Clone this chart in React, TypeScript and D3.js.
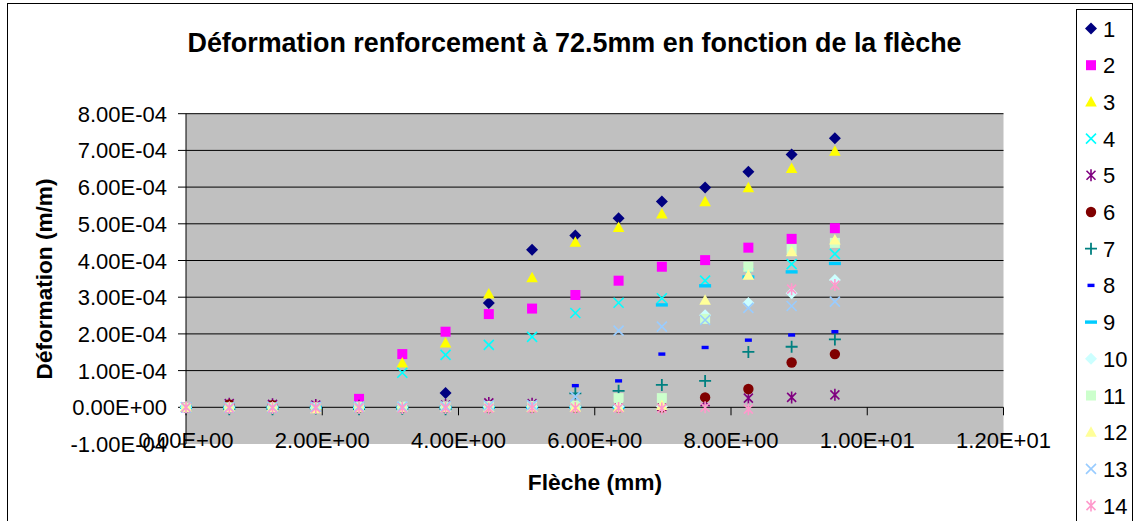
import React from 'react';
import * as d3 from 'd3';

// Flèche (mm)
const fleche = [0, 0.635, 1.27, 1.905, 2.54, 3.175, 3.81, 4.445, 5.08, 5.715, 6.35, 6.985, 7.62, 8.255, 8.89, 9.525];

// Déformation (m/m) per gauge
const s1 = [0, 0.02e-4, 0.01e-4, 0, 0, 0, 0.39e-4, 2.84e-4, 4.29e-4, 4.68e-4, 5.15e-4, 5.61e-4, 5.99e-4, 6.42e-4, 6.89e-4, 7.33e-4];
const s2 = [0, 0, 0, 0.02e-4, 0.23e-4, 1.45e-4, 2.06e-4, 2.54e-4, 2.69e-4, 3.06e-4, 3.45e-4, 3.83e-4, 4.01e-4, 4.35e-4, 4.59e-4, 4.88e-4];
const s3 = [0, 0, 0, 0.05e-4, 0, 1.21e-4, 1.75e-4, 3.09e-4, 3.53e-4, 4.5e-4, 4.9e-4, 5.27e-4, 5.6e-4, 5.98e-4, 6.51e-4, 6.98e-4];
const s4 = [0, 0, 0, 0, 0, 0.94e-4, 1.43e-4, 1.7e-4, 1.92e-4, 2.57e-4, 2.85e-4, 2.97e-4, 3.45e-4, 3.65e-4, 3.9e-4, 4.18e-4];
const s5 = [0, 0.1e-4, 0.08e-4, 0.06e-4, 0.04e-4, 0, 0.06e-4, 0.12e-4, 0.1e-4, 0.04e-4, 0.03e-4, 0.03e-4, 0.15e-4, 0.25e-4, 0.27e-4, 0.34e-4];
const s6 = [0, 0.08e-4, 0.06e-4, 0, 0, 0, 0, 0, 0, 0, 0, 0, 0.27e-4, 0.5e-4, 1.22e-4, 1.45e-4];
const s7 = [0, -0.05e-4, -0.05e-4, -0.03e-4, -0.05e-4, -0.04e-4, -0.05e-4, -0.02e-4, 0, 0.38e-4, 0.45e-4, 0.61e-4, 0.72e-4, 1.51e-4, 1.65e-4, 1.85e-4];
const s8 = [0, 0.01e-4, 0.01e-4, 0.02e-4, 0.02e-4, 0.02e-4, 0.03e-4, 0.03e-4, 0.04e-4, 0.59e-4, 0.72e-4, 1.45e-4, 1.63e-4, 1.83e-4, 1.97e-4, 2.06e-4];
const s9 = [0, 0, 0, 0, 0, 0, 0, 0, 0, 0, 0, 2.79e-4, 3.31e-4, 3.55e-4, 3.69e-4, 3.92e-4];
const s10 = [0, 0, 0, -0.02e-4, 0, 0, 0, 0.02e-4, 0.02e-4, 0.02e-4, 0.02e-4, 0.02e-4, 2.51e-4, 2.84e-4, 3.11e-4, 3.47e-4];
const s11 = [0, 0, 0, 0, 0.02e-4, 0.02e-4, 0.02e-4, 0.03e-4, 0.03e-4, 0.05e-4, 0.25e-4, 0.25e-4, 2.41e-4, 3.83e-4, 4.31e-4, 4.48e-4];
const s12 = [0, 0, 0, -0.04e-4, 0, 0, 0, 0, 0, 0, 0, 0.05e-4, 2.92e-4, 3.6e-4, 4.24e-4, 4.56e-4];
const s13 = [0, 0, 0, 0.01e-4, 0.02e-4, 0.02e-4, 0.03e-4, 0.05e-4, 0.06e-4, 0.29e-4, 2.09e-4, 2.2e-4, 2.38e-4, 2.71e-4, 2.76e-4, 2.88e-4];
const s14 = [0, -0.02e-4, -0.02e-4, -0.02e-4, -0.02e-4, -0.02e-4, -0.02e-4, -0.03e-4, -0.02e-4, -0.02e-4, -0.02e-4, -0.03e-4, 0, -0.05e-4, 3.22e-4, 3.33e-4];

const seriesValues = [s1, s2, s3, s4, s5, s6, s7, s8, s9, s10, s11, s12, s13, s14];
const seriesNames = ['1', '2', '3', '4', '5', '6', '7', '8', '9', '10', '11', '12', '13', '14'];
const seriesColors = ['#000080', '#FF00FF', '#FFFF00', '#00FFFF', '#800080', '#800000', '#008080', '#0000FF', '#00CCFF', '#CCFFFF', '#CCFFCC', '#FFFF99', '#99CCFF', '#FF99CC'];
const seriesMarkers = ['diamond', 'square', 'triangle', 'x', 'star', 'circle', 'plus', 'dash', 'longdash', 'diamond', 'square', 'triangle', 'x', 'star'];

const yTicks = [-1e-4, 0, 1e-4, 2e-4, 3e-4, 4e-4, 5e-4, 6e-4, 7e-4, 8e-4];
const xTicks = [0, 2, 4, 6, 8, 10, 12];

const titleText = 'Déformation renforcement à 72.5mm en fonction de la flèche';
const xTitle = 'Flèche (mm)';
const yTitle = 'Déformation (m/m)';

const FONT = '"Liberation Sans", Arial, Helvetica, sans-serif';

function fmtE(v: number): string {
  const [m, e] = v.toExponential(2).split('e');
  const sign = e[0] === '-' ? '-' : '+';
  const n = Math.abs(parseInt(e, 10));
  return `${m}E${sign}${String(n).padStart(2, '0')}`;
}

function Marker({ type, color, x, y }: { type: string; color: string; x: number; y: number }) {
  const t = `translate(${x},${y})`;
  switch (type) {
    case 'diamond':
      return <path transform={t} d="M0,-6L6,0L0,6L-6,0Z" fill={color} />;
    case 'square':
      return <rect transform={t} x={-5} y={-5} width={10} height={10} fill={color} />;
    case 'triangle':
      return <path transform={t} d="M0,-6L5.8,4.5L-5.8,4.5Z" fill={color} />;
    case 'x':
      return <path transform={t} d="M-5,-5L5,5M-5,5L5,-5" stroke={color} strokeWidth={1.6} fill="none" />;
    case 'star':
      return <path transform={t} d="M-4.5,-4.5L4.5,4.5M-4.5,4.5L4.5,-4.5M0,-6L0,6" stroke={color} strokeWidth={1.6} fill="none" />;
    case 'circle':
      return <circle cx={x} cy={y} r={5.2} fill={color} />;
    case 'plus':
      return <path transform={t} d="M-6,0L6,0M0,-6L0,6" stroke={color} strokeWidth={1.8} fill="none" />;
    case 'dash':
      return <rect transform={t} x={-3.5} y={-1.7} width={7} height={3.4} fill={color} />;
    case 'longdash':
      return <rect transform={t} x={-6} y={-1.7} width={12} height={3.4} fill={color} />;
    default:
      return null;
  }
}

export default function App() {
  const W = 1135;
  const H = 521;
  const x = d3.scaleLinear().domain([0, 12]).range([186, 1003.5]);
  const y = d3.scaleLinear().domain([-1e-4, 8e-4]).range([444, 113.7]);
  const x0 = x(0);
  const yZero = y(0);
  const gridTicks = yTicks.filter((v) => v > 0);
  const legendY0 = 28.5;
  const legendStep = 36.7;

  return (
    <svg width={W} height={H} style={{ position: 'absolute', left: 0, top: 0, display: 'block', background: '#fff' }} fontFamily={FONT}>
      <rect x={0} y={0} width={W} height={H} fill="#fff" />
      {/* chart area border */}
      <rect x={7.5} y={3.5} width={1125} height={560} fill="none" stroke="#000" strokeWidth={1} />
      {/* plot area */}
      <rect x={x(0)} y={y(8e-4)} width={x(12) - x(0)} height={y(-1e-4) - y(8e-4)} fill="#C0C0C0" />
      {gridTicks.map((v) => (
        <line key={'g' + v} x1={x(0)} x2={x(12)} y1={y(v)} y2={y(v)} stroke="#000" strokeWidth={1} />
      ))}
      {/* y axis */}
      <line x1={x0} x2={x0} y1={y(8e-4)} y2={y(-1e-4)} stroke="#000" strokeWidth={1} />
      {yTicks.map((v) => (
        <g key={'yt' + v}>
          <line x1={x0 - 8} x2={x0} y1={y(v)} y2={y(v)} stroke="#000" strokeWidth={1} />
          <text x={167} y={y(v) + 8} textAnchor="end" fontSize={22} fill="#000">
            {fmtE(v)}
          </text>
        </g>
      ))}
      {/* x axis */}
      <line x1={x(0)} x2={x(12)} y1={yZero} y2={yZero} stroke="#000" strokeWidth={1} />
      {xTicks.map((v) => (
        <g key={'xt' + v}>
          <line x1={x(v)} x2={x(v)} y1={yZero} y2={yZero + 8} stroke="#000" strokeWidth={1} />
          <text x={x(v)} y={448} textAnchor="middle" fontSize={22} fill="#000">
            {fmtE(v)}
          </text>
        </g>
      ))}
      {/* markers */}
      {seriesValues.map((vals, si) => (
        <g key={'s' + si}>
          {vals.map((v, i) => (
            <Marker key={i} type={seriesMarkers[si]} color={seriesColors[si]} x={x(fleche[i])} y={y(v)} />
          ))}
        </g>
      ))}
      {/* titles */}
      <text x={574.5} y={52} textAnchor="middle" fontSize={26.9} fontWeight="bold" fill="#000">
        {titleText}
      </text>
      <text x={595} y={490} textAnchor="middle" fontSize={22.8} fontWeight="bold" fill="#000">
        {xTitle}
      </text>
      <text transform={`translate(52,279) rotate(-90)`} textAnchor="middle" fontSize={22.6} fontWeight="bold" fill="#000">
        {yTitle}
      </text>
      {/* legend */}
      <rect x={1076.5} y={9.5} width={56} height={560} fill="#fff" stroke="#000" strokeWidth={1} />
      {seriesNames.map((n, i) => {
        const cy = legendY0 + i * legendStep;
        return (
          <g key={'l' + i}>
            <Marker type={seriesMarkers[i]} color={seriesColors[i]} x={1091} y={cy} />
            <text x={1103} y={cy + 8} fontSize={22} fill="#000">
              {n}
            </text>
          </g>
        );
      })}
    </svg>
  );
}
